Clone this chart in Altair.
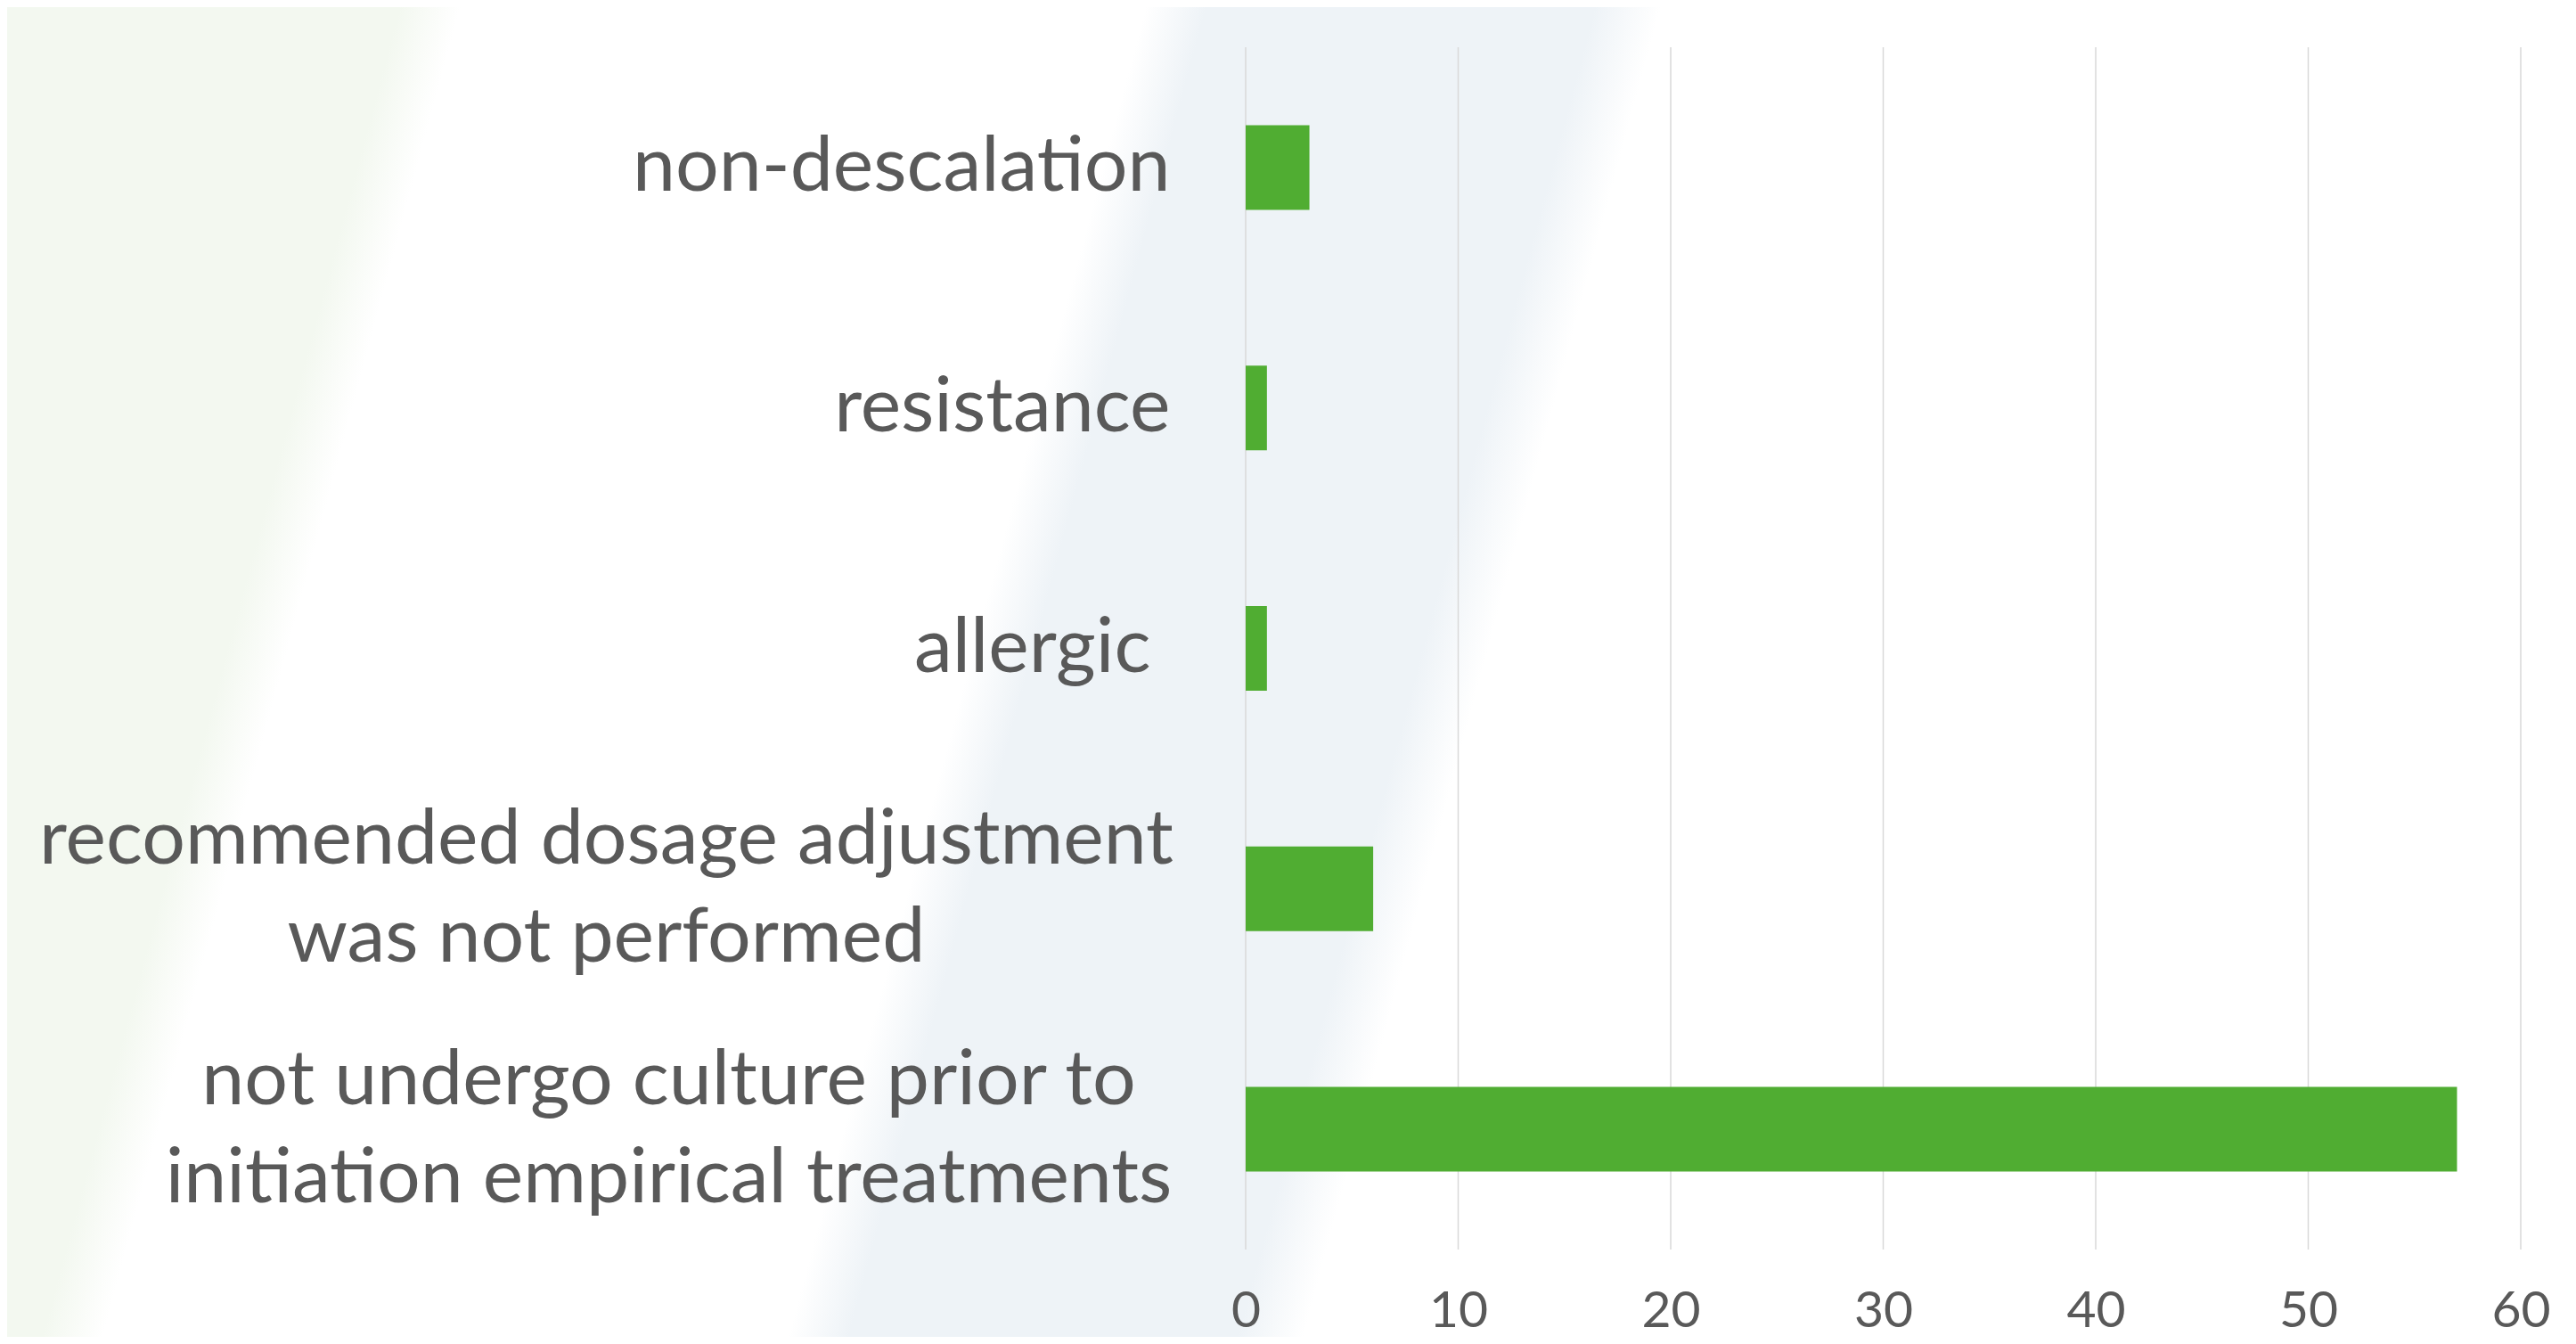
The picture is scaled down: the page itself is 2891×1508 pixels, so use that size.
import altair as alt
import pandas as pd

# ---- data ----
categories = [
    "non-descalation",
    "resistance",
    "allergic",
    "recommended dosage adjustment\nwas not performed",
    "not undergo culture prior to\ninitiation empirical treatments",
]
values = [3, 1, 1, 6, 57]
x_ticks = [0, 10, 20, 30, 40, 50, 60]

df = pd.DataFrame({"reason": categories, "count": values})
grid_df = pd.DataFrame({"tick": x_ticks})
bg_df = pd.DataFrame({"k": [0]})

# ---- layout ----
PLOT_W = 1431
PLOT_H = 1349
PAD_L = 1390
PAD_T = 45
PAD_R = 54
PAD_B = 98

TEXT = "#595959"
GRID = "#d9d9d9"
BAR = "#50ad32"
GREEN_TINT = "#f3f8f0"
BLUE_TINT = "#eef3f7"

bg_gradient = alt.LinearGradient(
    gradient="linear", x1=0, y1=0, x2=1, y2=0.1403,
    stops=[
        alt.GradientStop(offset=0.0, color=GREEN_TINT),
        alt.GradientStop(offset=0.153, color=GREEN_TINT),
        alt.GradientStop(offset=0.176, color="#ffffff"),
        alt.GradientStop(offset=0.437, color="#ffffff"),
        alt.GradientStop(offset=0.46, color=BLUE_TINT),
        alt.GradientStop(offset=0.608, color=BLUE_TINT),
        alt.GradientStop(offset=0.633, color="#ffffff"),
        alt.GradientStop(offset=1.0, color="#ffffff"),
    ],
)

background = alt.Chart(bg_df).mark_rect(fill=bg_gradient).encode(
    x=alt.value(-(PAD_L + 8)),
    x2=alt.value(PLOT_W + PAD_R + 8),
    y=alt.value(-(PAD_T + 8)),
    y2=alt.value(PLOT_H + PAD_B + 8),
)

x_scale = alt.Scale(domain=[0, 60], nice=False, zero=True)

x_axis = alt.Axis(
    title=None,
    values=x_ticks,
    labelFont="Lato",
    labelFontSize=57,
    labelColor=TEXT,
    labelBaseline="alphabetic",
    labelPadding=86,
    labelFlush=False,
    labelOverlap=False,
    ticks=False,
    tickSize=0,
    domain=False,
    grid=False,
    zindex=1,
)

gridlines = alt.Chart(grid_df).mark_rule(color=GRID, strokeWidth=1.5).encode(
    x=alt.X("tick:Q", scale=x_scale, axis=x_axis, title=None),
)

T_REC = "indexof(datum.value, 'recommended') >= 0"
T_UND = "indexof(datum.value, 'undergo') >= 0"
T_ALL = "datum.value == 'allergic'"

y_axis = alt.Axis(
    title=None,
    labelFont="Lato",
    labelFontSize=86,
    labelColor=TEXT,
    labelLineHeight=110,
    labelExpr="split(datum.label, '\\n')",
    labelLimit=0,
    labelBaseline="middle",
    labelAlign={"condition": {"test": T_REC + " || " + T_UND, "value": "center"}, "value": "right"},
    labelOffset={"condition": {"test": T_REC + " || " + T_UND, "value": -54}, "value": 0},
    labelPadding={
        "condition": [
            {"test": T_REC, "value": 718},
            {"test": T_UND, "value": 648},
            {"test": T_ALL, "value": 107},
        ],
        "value": 85,
    },
    ticks=False,
    tickSize=0,
    domain=False,
    grid=False,
    zindex=1,
)

bars = alt.Chart(df).mark_bar(color=BAR).encode(
    x=alt.X("count:Q", scale=x_scale, axis=x_axis, title=None),
    y=alt.Y(
        "reason:N",
        sort=categories,
        scale=alt.Scale(paddingInner=0.648, paddingOuter=0.324),
        axis=y_axis,
        title=None,
    ),
)

chart = (
    alt.layer(background, gridlines, bars)
    .properties(
        width=PLOT_W,
        height=PLOT_H,
        padding={"left": PAD_L, "top": PAD_T, "right": PAD_R, "bottom": PAD_B},
        autosize=alt.AutoSizeParams(type="none"),
        background="white",
    )
    .configure_view(strokeWidth=0)
)

chart.save("out.html", embed_options={"renderer": "svg", "actions": False})
